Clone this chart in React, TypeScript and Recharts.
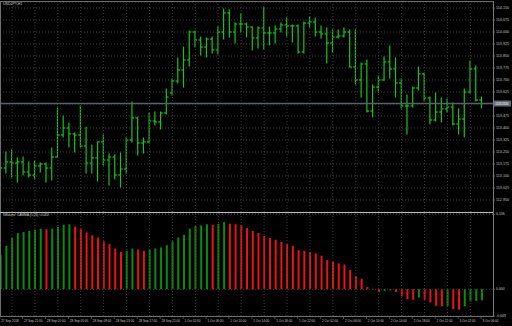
import React from "react";
import {
  ComposedChart,
  Bar,
  Cell,
  XAxis,
  YAxis,
  CartesianGrid,
  ReferenceLine,
} from "recharts";

// USDJPY H1, one entry per hourly bar (27 Sep 17:00 .. 3 Oct 06:00)
const highs = [
  113.169, 113.25, 113.263, 113.213, 113.219, 113.188, 113.194, 113.181, 113.181, 113.275,
  113.525, 113.475, 113.431, 113.369, 113.538, 113.406, 113.294, 113.313, 113.356, 113.238,
  113.231, 113.244, 113.338, 113.563, 113.469, 113.338, 113.494, 113.5, 113.5, 113.644,
  113.706, 113.838, 113.906, 114.006, 114.006, 113.969, 113.963, 113.969, 114.031, 114.144,
  114.138, 114.056, 114.113, 114.056, 114.031, 114.031, 114.156, 114.031, 114.038, 114.056,
  114.088, 114.044, 114.044, 114.063, 114.094, 114.088, 114.038, 114.025, 114.013, 114.013,
  114.025, 114.013, 114.013, 113.806, 113.825, 113.669, 113.725, 113.844, 113.913, 113.838,
  113.706, 113.606, 113.656, 113.781, 113.744, 113.594, 113.619, 113.588, 113.581, 113.556,
  113.519, 113.644, 113.819, 113.788, 113.594,
];
const lows = [
  113.131, 113.119, 113.094, 113.063, 113.106, 113.094, 113.081, 113.125, 113.063, 113.075,
  113.219, 113.344, 113.281, 113.25, 113.281, 113.119, 113.119, 113.069, 113.169, 113.044,
  113.081, 113.031, 113.119, 113.313, 113.231, 113.244, 113.306, 113.419, 113.394, 113.488,
  113.606, 113.681, 113.656, 113.788, 113.906, 113.856, 113.844, 113.869, 113.863, 113.956,
  113.969, 113.931, 114.0, 113.969, 113.888, 113.9, 113.894, 113.919, 113.931, 114.0,
  113.975, 113.938, 113.869, 113.869, 114.031, 113.975, 113.963, 113.806, 113.875, 113.963,
  113.969, 113.781, 113.675, 113.594, 113.5, 113.469, 113.625, 113.7, 113.713, 113.594,
  113.525, 113.363, 113.531, 113.638, 113.569, 113.425, 113.444, 113.438, 113.5, 113.419,
  113.363, 113.344, 113.619, 113.569, 113.525,
];
const opens = [
  113.15, 113.15, 113.188, 113.181, 113.188, 113.125, 113.106, 113.163, 113.175, 113.15,
  113.219, 113.356, 113.4, 113.363, 113.356, 113.288, 113.181, 113.213, 113.313, 113.2,
  113.219, 113.106, 113.144, 113.325, 113.463, 113.306, 113.313, 113.444, 113.438, 113.494,
  113.619, 113.694, 113.763, 113.825, 114.0, 113.95, 113.906, 113.956, 113.888, 114.0,
  114.119, 114.0, 114.05, 114.05, 114.031, 113.963, 114.025, 113.994, 113.994, 114.019,
  114.044, 114.038, 114.038, 113.875, 114.056, 114.063, 114.0, 113.988, 113.931, 113.969,
  113.975, 114.0, 113.781, 113.7, 113.8, 113.506, 113.656, 113.7, 113.813, 113.769,
  113.681, 113.538, 113.538, 113.65, 113.738, 113.588, 113.45, 113.5, 113.519, 113.531,
  113.425, 113.456, 113.625, 113.769, 113.575,
];
const closes = [
  113.15, 113.188, 113.181, 113.188, 113.125, 113.106, 113.163, 113.175, 113.15, 113.219,
  113.356, 113.4, 113.363, 113.356, 113.288, 113.181, 113.213, 113.313, 113.2, 113.219,
  113.106, 113.144, 113.325, 113.463, 113.306, 113.313, 113.444, 113.438, 113.494, 113.594,
  113.694, 113.763, 113.825, 114.0, 113.95, 113.906, 113.956, 113.888, 114.0, 114.119,
  114.0, 114.05, 114.05, 114.031, 113.963, 114.025, 113.994, 113.994, 114.019, 114.044,
  114.038, 114.038, 113.875, 114.056, 114.063, 114.0, 113.988, 113.931, 113.969, 113.975,
  114.0, 113.781, 113.7, 113.8, 113.506, 113.656, 113.7, 113.813, 113.769, 113.681,
  113.538, 113.538, 113.65, 113.738, 113.588, 113.45, 113.5, 113.519, 113.531, 113.425,
  113.456, 113.625, 113.769, 113.575, 113.553,
];
const oscValues = [
  0.062, 0.079, 0.093, 0.102, 0.104, 0.106, 0.108, 0.11, 0.109, 0.11,
  0.113, 0.117, 0.118, 0.114, 0.109, 0.103, 0.098, 0.094, 0.087, 0.082,
  0.074, 0.068, 0.07, 0.074, 0.072, 0.07, 0.072, 0.074, 0.076, 0.08,
  0.087, 0.094, 0.099, 0.11, 0.115, 0.116, 0.118, 0.117, 0.119, 0.122,
  0.119, 0.118, 0.117, 0.111, 0.106, 0.102, 0.097, 0.093, 0.09, 0.086,
  0.082, 0.079, 0.071, 0.07, 0.068, 0.065, 0.061, 0.053, 0.05, 0.047,
  0.045, 0.035, 0.024, 0.019, 0.004, 0.001, -0.005, -0.003, -0.002, -0.005,
  -0.013, -0.018, -0.019, -0.015, -0.019, -0.024, -0.03, -0.031, -0.03, -0.036,
  -0.037, -0.031, -0.022, -0.021, -0.02,
];

const priceTicks = [
  114.15, 114.075, 114.0, 113.925, 113.85, 113.775, 113.7, 113.625, 113.55,
  113.475, 113.4, 113.325, 113.25, 113.175, 113.1, 113.025, 112.95,
];
const oscTicks = [0.136, 0, -0.0485];
const oscTickLabels = ["0.136", "0.000", "-0.049"];
const timeLabels = [
  "27 Sep 2018", "27 Sep 21:00", "28 Sep 01:00", "28 Sep 05:00", "28 Sep 09:00",
  "28 Sep 13:00", "28 Sep 17:00", "28 Sep 21:00", "1 Oct 02:00", "1 Oct 06:00",
  "1 Oct 10:00", "1 Oct 14:00", "1 Oct 18:00", "1 Oct 22:00", "2 Oct 02:00",
  "2 Oct 06:00", "2 Oct 10:00", "2 Oct 14:00", "2 Oct 18:00", "2 Oct 22:00",
  "3 Oct 02:00", "3 Oct 06:00",
];
const bidPrice = 113.553;
const symbolTitle = "USDJPY,H1";
const oscTitle = "Williams' CAMMA (5,20) -0.020";

const X_DOMAIN: [number, number] = [-0.09, 85.95];
const PRICE_DOMAIN: [number, number] = [112.875, 114.1875];
const OSC_DOMAIN: [number, number] = [-0.0485, 0.1385];

const BAR_GREEN = "#17c417";
const OSC_UP = "#0b8c0b";
const OSC_DOWN = "#f01212";
const GRID = "#3d3d3d";
const AXIS_TEXT = "#c4c4c4";
const FONT = "'Liberation Sans', Arial, sans-serif";

const rows = highs.map((h, i) => ({
  i,
  high: h,
  low: lows[i],
  open: opens[i],
  close: closes[i],
  osc: oscValues[i],
}));

const labelBars = timeLabels.map((_, k) => k * 4);
const gridBars = Array.from({ length: 21 }, (_, k) => 2 + k * 4);

function OhlcShape(props: any) {
  const { x, y, width, height, payload } = props;
  if (x == null || y == null) return null;
  const top = Math.min(y, y + height);
  const h = Math.abs(height);
  const cx = x + width / 2;
  const span = payload.high - payload.low || 1;
  const yOpen = top + ((payload.high - payload.open) / span) * h;
  const yClose = top + ((payload.high - payload.close) / span) * h;
  return (
    <g stroke={BAR_GREEN} strokeWidth={1.2}>
      <line x1={cx} x2={cx} y1={top - 0.5} y2={top + h + 0.5} />
      <line x1={cx - 2.2} x2={cx} y1={yOpen} y2={yOpen} />
      <line x1={cx} x2={cx + 2.2} y1={yClose} y2={yClose} />
    </g>
  );
}

function PriceTick(props: any) {
  const { x, y, payload } = props;
  return (
    <text x={x} y={y} fontSize={3.7} fill={AXIS_TEXT} fontFamily={FONT} dominantBaseline="central">
      {Number(payload.value).toFixed(3)}
    </text>
  );
}

function OscTick(props: any) {
  const { x, y, payload, index } = props;
  return (
    <text x={x} y={y} fontSize={3.5} fill={AXIS_TEXT} fontFamily={FONT} dominantBaseline="central">
      {oscTickLabels[index] ?? payload.value}
    </text>
  );
}

function TimeTick(props: any) {
  const { x, y, payload } = props;
  const label = timeLabels[Math.round(payload.value / 4)];
  return (
    <g>
      <line x1={x - 0.8} x2={x - 0.8} y1={y} y2={y + 3} stroke="#777" strokeWidth={0.6} />
      <text x={x + 0.6} y={y + 5} fontSize={3.1} fill={AXIS_TEXT} fontFamily={FONT} dominantBaseline="central">
        {label}
      </text>
    </g>
  );
}

function BidLabel(props: any) {
  const vb = props.viewBox;
  if (!vb) return null;
  const bx = vb.x + vb.width + 1;
  return (
    <g>
      <rect x={bx} y={vb.y - 3} width={17} height={6} fill="#5f6a77" />
      <text x={bx + 1} y={vb.y} fontSize={3.6} fill="#e8e8e8" fontFamily={FONT} dominantBaseline="central">
        {bidPrice.toFixed(3)}
      </text>
    </g>
  );
}

const textStyle: React.CSSProperties = {
  position: "absolute",
  color: "#d0d0d0",
  fontFamily: FONT,
  fontSize: "3.6px",
  lineHeight: 1,
  whiteSpace: "nowrap",
};

export default function App() {
  return (
    <div
      style={{
        position: "absolute",
        left: 0,
        top: 0,
        width: 512,
        height: 326,
        background: "#000",
        overflow: "hidden",
      }}
    >
      <div style={{ position: "absolute", left: 0, top: 0 }}>
        <ComposedChart
          width={512}
          height={212}
          data={rows}
          margin={{ top: 2, right: 0, left: 0, bottom: 0 }}
        >
          <CartesianGrid horizontal vertical={false} stroke={GRID} strokeDasharray="1 2" />
          <XAxis dataKey="i" type="number" domain={X_DOMAIN} allowDataOverflow hide />
          <YAxis
            orientation="right"
            width={19}
            domain={PRICE_DOMAIN}
            allowDataOverflow
            ticks={priceTicks}
            interval={0}
            axisLine={false}
            tickLine={{ stroke: "#888", strokeWidth: 0.6 }}
            tickSize={2}
            tickMargin={1}
            tick={<PriceTick />}
          />
          {gridBars.map((b) => (
            <ReferenceLine key={b} x={b} stroke={GRID} strokeDasharray="1 2" />
          ))}
          <ReferenceLine
            y={bidPrice}
            stroke="#56616d"
            strokeWidth={1.6}
            label={<BidLabel />}
          />
          <Bar
            dataKey={(d: any) => [d.low, d.high]}
            barSize={3}
            shape={<OhlcShape />}
            isAnimationActive={false}
          />
        </ComposedChart>
      </div>

      <div style={{ position: "absolute", left: 0, top: 212 }}>
        <ComposedChart
          width={512}
          height={114}
          data={rows}
          margin={{ top: 1, right: 0, left: 0, bottom: 0 }}
        >
          <CartesianGrid horizontal vertical={false} stroke={GRID} strokeDasharray="1 2" />
          <XAxis
            dataKey="i"
            type="number"
            domain={X_DOMAIN}
            allowDataOverflow
            ticks={labelBars}
            interval={0}
            height={10}
            axisLine={false}
            tickLine={false}
            tickSize={0}
            tickMargin={0}
            tick={<TimeTick />}
          />
          <YAxis
            orientation="right"
            width={19}
            domain={OSC_DOMAIN}
            allowDataOverflow
            ticks={oscTicks}
            interval={0}
            axisLine={false}
            tickLine={{ stroke: "#888", strokeWidth: 0.6 }}
            tickSize={2}
            tickMargin={1}
            tick={<OscTick />}
          />
          {gridBars.map((b) => (
            <ReferenceLine key={b} x={b} stroke={GRID} strokeDasharray="1 2" />
          ))}
          <Bar dataKey="osc" barSize={2} isAnimationActive={false}>
            {rows.map((r, i) => (
              <Cell
                key={i}
                fill={i === 0 || r.osc >= oscValues[i - 1] ? OSC_UP : OSC_DOWN}
              />
            ))}
          </Bar>
        </ComposedChart>
      </div>

      {/* panel borders */}
      <div style={{ position: "absolute", left: 0, top: 1, width: 493, height: 1, background: "#6e6e6e" }} />
      <div style={{ position: "absolute", left: 0, top: 1, width: 1, height: 316, background: "#6e6e6e" }} />
      <div style={{ position: "absolute", left: 492.5, top: 1, width: 1, height: 316, background: "#7a7a7a" }} />
      <div style={{ position: "absolute", left: 0, top: 211.5, width: 493, height: 1.5, background: "#b8b8b8" }} />
      <div style={{ position: "absolute", left: 0, top: 316, width: 493, height: 1, background: "#6e6e6e" }} />

      <div style={{ ...textStyle, left: 3, top: 2.5 }}>{symbolTitle}</div>
      <div style={{ ...textStyle, left: 3, top: 214, fontSize: "3.3px" }}>{oscTitle}</div>
    </div>
  );
}
